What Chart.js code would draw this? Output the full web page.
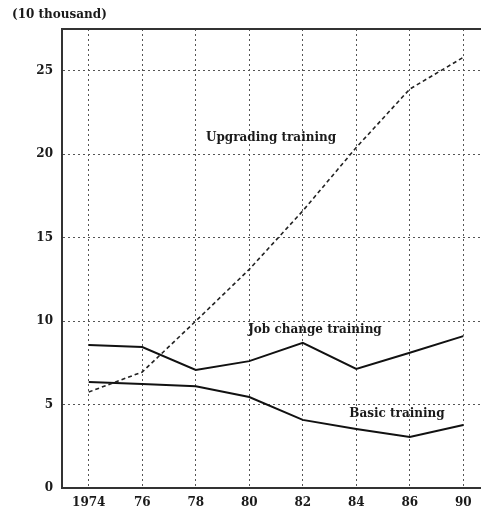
<!DOCTYPE html>
<html>
<head>
<meta charset="utf-8">
<script src="https://cdn.jsdelivr.net/npm/chart.js@4.4.1/dist/chart.umd.min.js"></script>
<style>
  html, body { margin: 0; padding: 0; background: #fff; overflow: hidden; }
  #wrap { position: relative; width: 496px; height: 510px; }
</style>
</head>
<body>
<div id="wrap"><canvas id="chart"></canvas></div>
<script>
// data, unit: 10 thousand people
const years = ["1974", "76", "78", "80", "82", "84", "86", "90"];
const upgrading = [5.75, 6.95, 10.0, 13.1, 16.6, 20.4, 23.9, 25.8];
const jobChange = [8.57, 8.45, 7.07, 7.6, 8.7, 7.13, 8.1, 9.1];
const basic = [6.35, 6.23, 6.1, 5.45, 4.08, 3.54, 3.06, 3.78];

// series name, x index, y value for the text placed inside the plot
const seriesLabels = [
    { text: "Upgrading training", x: 2.19, y: 21.0 },
    { text: "Job change training", x: 2.98, y: 9.45 },
    { text: "Basic training", x: 4.87, y: 4.45 },
];

const serif = "'DejaVu Serif', 'Liberation Serif', serif";

const labelPlugin = {
    id: "labels",
    afterDraw(chart) {
        const ctx = chart.ctx;
        const area = chart.chartArea;
        const xs = chart.scales.x;
        const ys = chart.scales.y;

        ctx.save();
        // top frame line
        ctx.strokeStyle = "#333";
        ctx.lineWidth = 2;
        ctx.beginPath();
        ctx.moveTo(area.left, area.top);
        ctx.lineTo(chart.width, area.top);
        ctx.stroke();

        ctx.fillStyle = "#1a1a1a";
        ctx.font = "bold 12px " + serif;
        ctx.textBaseline = "middle";
        ctx.textAlign = "left";
        seriesLabels.forEach((l) => {
            ctx.fillText(l.text, xs.getPixelForValue(l.x), ys.getPixelForValue(l.y));
        });

        // unit caption
        ctx.fillText("(10 thousand)", area.left - 50, area.top - 14);
        ctx.restore();
    }
};

const context = document.getElementById("chart").getContext("2d");
new Chart(context, {
    type: "line",
    data: {
        labels: years,
        datasets: [
            {
                label: "Upgrading training",
                data: upgrading,
                borderColor: "#222",
                borderWidth: 1.6,
                borderDash: [4, 3],
                pointRadius: 0,
                tension: 0,
            },
            {
                label: "Job change training",
                data: jobChange,
                borderColor: "#111",
                borderWidth: 2,
                pointRadius: 0,
                tension: 0,
            },
            {
                label: "Basic training",
                data: basic,
                borderColor: "#111",
                borderWidth: 2,
                pointRadius: 0,
                tension: 0,
            },
        ],
    },
    options: {
        responsive: true,
        maintainAspectRatio: false,
        animation: false,
        layout: { padding: { top: 29, right: 6, left: 0, bottom: 0 } },
        plugins: {
            legend: { display: false },
            tooltip: { enabled: false },
        },
        scales: {
            x: {
                offset: true,
                grid: { color: "#555", lineWidth: 1, drawTicks: false },
                border: { color: "#333", width: 2, dash: [2, 3] },
                ticks: {
                    color: "#1a1a1a",
                    font: { family: serif, size: 12, weight: "bold" },
                    padding: 8,
                    maxRotation: 0,
                    autoSkip: false,
                },
                afterFit(scale) { scale.height = 22; },
            },
            y: {
                min: 0,
                max: 27.5,
                grid: {
                    color: (c) => (c.tick && c.tick.value === 0 ? "rgba(0,0,0,0)" : "#555"),
                    lineWidth: 1,
                    drawTicks: false,
                },
                border: { color: "#333", width: 2, dash: [2, 3] },
                ticks: {
                    stepSize: 5,
                    includeBounds: false,
                    color: "#1a1a1a",
                    font: { family: serif, size: 12, weight: "bold" },
                    padding: 9,
                },
                afterFit(scale) { scale.width = 62; },
            },
        },
    },
    plugins: [labelPlugin],
});
</script>
</body>
</html>
